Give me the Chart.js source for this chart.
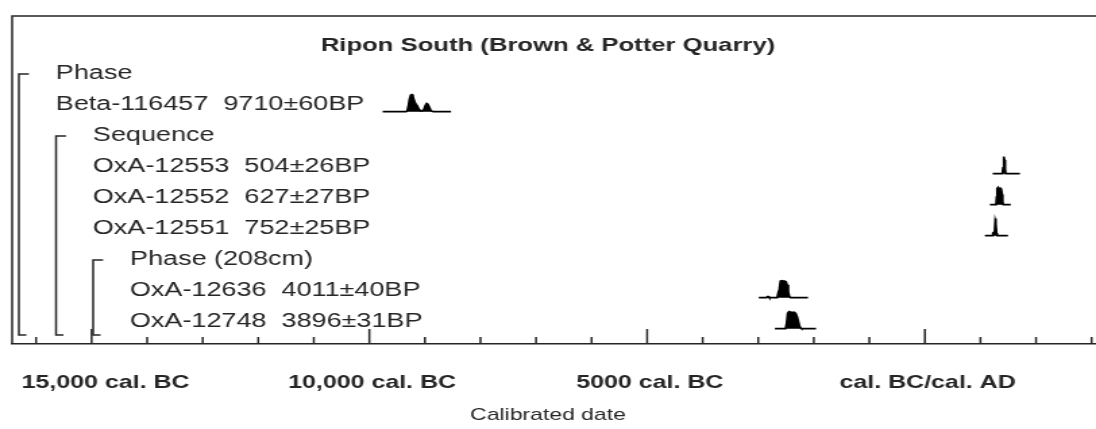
<!DOCTYPE html>
<html>
<head>
<meta charset="utf-8">
<script src="https://cdn.jsdelivr.net/npm/chart.js@4.4.1/dist/chart.umd.min.js"></script>
<style>
  html, body { margin: 0; padding: 0; background: #fff; }
</style>
</head>
<body>
<!-- drawn at 812px wide and stretched out to the page width -->
<canvas id="plot" width="812" height="429" style="display:block;width:1096px;height:429px"></canvas>
<script>
const chartTitle = 'Ripon South (Brown & Potter Quarry)';

// row layout, top to bottom
const rowLevels = [0, 0, 1, 1, 1, 1, 2, 2, 2];
const headerNames = ['Phase', 'Sequence', 'Phase (208cm)'];
const headerRows = [0, 2, 6];
const lastRow = 8;

// radiocarbon determinations
const labIds = ['Beta-116457', 'OxA-12553', 'OxA-12552', 'OxA-12551', 'OxA-12636', 'OxA-12748'];
const bpAges = [9710, 504, 627, 752, 4011, 3896];
const bpErrors = [60, 26, 27, 25, 40, 31];
const sampleRows = [1, 3, 4, 5, 7, 8];

// calibrated probability (relative to peak), years BC negative
const yrsBeta = [-9760, -9340, -9320, -9300, -9280, -9255, -9235, -9215, -9190, -9165, -9140, -9110, -9080, -9050, -9020, -8995, -8970, -8950, -8925, -8900, -8875, -8850, -8530];
const probBeta = [0, 0, 0.05, 0.3, 0.7, 0.97, 1.0, 0.9, 0.62, 0.45, 0.35, 0.15, 0.05, 0.04, 0.12, 0.35, 0.48, 0.45, 0.3, 0.12, 0.03, 0, 0];
const yrs12553 = [1220, 1395, 1405, 1415, 1425, 1435, 1445, 1455, 1710];
const prob12553 = [0, 0, 0.35, 0.9, 1.0, 0.8, 0.3, 0, 0];
const yrs12552 = [1170, 1280, 1290, 1300, 1315, 1330, 1345, 1360, 1375, 1390, 1400, 1410, 1545];
const prob12552 = [0, 0, 0.45, 0.95, 1.0, 0.8, 0.85, 0.95, 0.9, 0.6, 0.2, 0, 0];
const yrs12551 = [1080, 1215, 1225, 1240, 1255, 1265, 1272, 1280, 1290, 1300, 1495];
const prob12551 = [0, 0, 0.15, 0.2, 0.3, 0.85, 1.0, 0.7, 0.15, 0, 0];
const yrs12636 = [-2990, -2850, -2835, -2815, -2800, -2660, -2640, -2620, -2600, -2575, -2550, -2525, -2500, -2480, -2460, -2440, -2420, -2105];
const prob12636 = [0, 0, 0.07, 0.07, 0, 0, 0.3, 0.5, 0.97, 1.0, 0.98, 0.97, 0.93, 0.75, 0.35, 0.08, 0, 0];
const yrs12748 = [-2700, -2510, -2490, -2470, -2445, -2415, -2385, -2355, -2325, -2300, -2280, -2260, -2240, -2220, -1960];
const prob12748 = [0, 0, 0.3, 0.9, 1.0, 0.97, 0.95, 0.97, 0.9, 0.7, 0.45, 0.2, 0.05, 0, 0];

const calYears = [yrsBeta, yrs12553, yrs12552, yrs12551, yrs12636, yrs12748];
const calProbs = [probBeta, prob12553, prob12552, prob12551, prob12636, prob12748];

// axis: a tick every millennium, labels every five
const tickYears = [-16000, -15000, -14000, -13000, -12000, -11000, -10000, -9000, -8000, -7000,
  -6000, -5000, -4000, -3000, -2000, -1000, 0, 1000, 2000, 3000];
const tickValues = [-15000, -10000, -5000, 0];
const tickTexts = ['15,000 cal. BC', '10,000 cal. BC', '5000 cal. BC', 'cal. BC/cal. AD'];
const axisTitle = 'Calibrated date';

const BASE_OFFSET = 0.245;   // baseline sits a little under the label row
const PEAK_HEIGHT = 0.55;    // tallest peak, in rows
const INK = '#262626';
const FONT = '"Liberation Sans", Arial, sans-serif';

const datasets = labIds.map((id, i) => {
  const base = sampleRows[i] + BASE_OFFSET;
  return {
    label: id,
    data: calYears[i].map((yr, j) => ({ x: yr, y: base - calProbs[i][j] * PEAK_HEIGHT })),
    borderColor: '#000',
    backgroundColor: '#000',
    borderWidth: 1.6,
    pointRadius: 0,
    tension: 0,
    fill: { value: base }
  };
});

const oxcalDecor = {
  id: 'oxcalDecor',
  afterDraw(chart) {
    const ctx = chart.ctx;
    const area = chart.chartArea;
    const xs = chart.scales.x;
    const ys = chart.scales.y;
    ctx.save();
    ctx.strokeStyle = INK;
    ctx.lineWidth = 1.5;

    // frame top and left
    ctx.beginPath();
    ctx.moveTo(area.left, area.bottom);
    ctx.lineTo(area.left, area.top);
    ctx.lineTo(chart.width, area.top);
    ctx.stroke();

    // ticks point up into the plot
    ctx.beginPath();
    xs.ticks.forEach(t => {
      const px = xs.getPixelForValue(t.value);
      const len = t.value % 5000 === 0 ? 15 : 7;
      ctx.moveTo(px, area.bottom);
      ctx.lineTo(px, area.bottom - len);
    });
    ctx.stroke();

    // group brackets
    ctx.beginPath();
    headerRows.forEach(r => {
      const bx = 14 + 27.5 * rowLevels[r];
      const top = ys.getPixelForValue(r) + 1;
      const bottom = ys.getPixelForValue(lastRow) + 14;
      ctx.moveTo(bx + 7.4, top);
      ctx.lineTo(bx, top);
      ctx.lineTo(bx, bottom);
      ctx.lineTo(bx + 5.5, bottom);
    });
    ctx.stroke();

    ctx.fillStyle = INK;
    ctx.textBaseline = 'middle';

    // tick labels, kept clear of the frame edge
    ctx.font = 'bold 18.5px ' + FONT;
    ctx.textAlign = 'center';
    tickValues.forEach((v, k) => {
      const half = ctx.measureText(tickTexts[k]).width / 2;
      const px = Math.max(xs.getPixelForValue(v) + 2, area.left + 7 + half);
      ctx.fillText(tickTexts[k], px, area.bottom + 39);
    });

    // axis title
    ctx.font = '17px ' + FONT;
    ctx.fillText(axisTitle, chart.width / 2, area.bottom + 71);

    // row labels
    ctx.textAlign = 'left';
    ctx.font = '20px ' + FONT;
    headerRows.forEach((r, k) => {
      ctx.fillText(headerNames[k], 41.3 + 27.5 * rowLevels[r], ys.getPixelForValue(r));
    });
    sampleRows.forEach((r, i) => {
      const txt = labIds[i] + '  ' + bpAges[i] + '\u00b1' + bpErrors[i] + 'BP';
      ctx.fillText(txt, 41.3 + 27.5 * rowLevels[r], ys.getPixelForValue(r));
    });

    // title
    ctx.font = 'bold 19px ' + FONT;
    ctx.textAlign = 'center';
    ctx.fillText(chartTitle, chart.width / 2, ys.getPixelForValue(-0.87));
    ctx.restore();
  }
};

new Chart(document.getElementById('plot'), {
  type: 'line',
  data: { datasets },
  options: {
    responsive: false,
    animation: false,
    events: [],
    layout: { padding: { top: 16, left: 9, right: 0, bottom: 85 } },
    plugins: { legend: { display: false }, tooltip: { enabled: false }, title: { display: false } },
    scales: {
      x: {
        type: 'linear',
        bounds: 'data',
        min: -16430,
        max: 3080,
        afterBuildTicks: axis => { axis.ticks = tickYears.map(v => ({ value: v })); },
        grid: { display: false, drawTicks: false },
        border: { display: true, color: INK, width: 1.5 },
        ticks: { display: false },
        title: { display: false }
      },
      y: {
        type: 'linear',
        display: false,
        reverse: true,
        min: -1.84,
        max: 8.74
      }
    }
  },
  plugins: [oxcalDecor]
});
</script>
</body>
</html>
